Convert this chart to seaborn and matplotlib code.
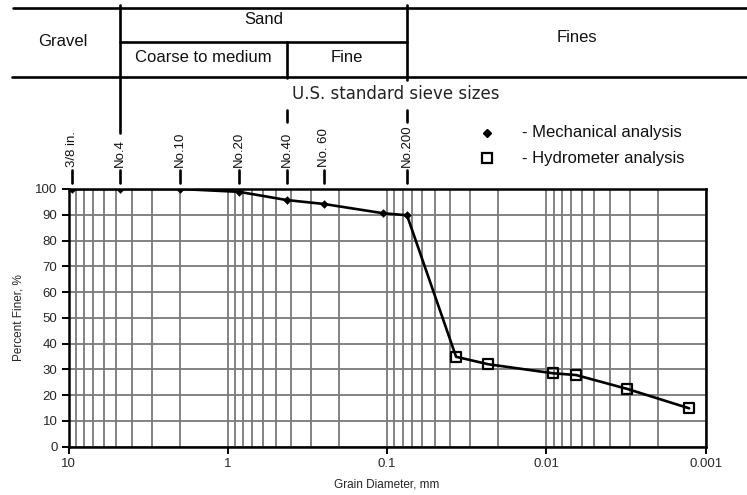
import numpy as np
import pandas as pd
import matplotlib
matplotlib.use("Agg")
import matplotlib.pyplot as plt
import matplotlib.transforms as mtransforms
from matplotlib.lines import Line2D
from matplotlib.ticker import FixedLocator, FuncFormatter, LogLocator, NullFormatter
import seaborn as sns

# Sieve analysis (mechanical) results
mech_diam = [9.5, 4.75, 2.0, 0.85, 0.425, 0.25, 0.106, 0.075]
mech_pct = [100, 100, 100, 98.9, 95.7, 94.2, 90.6, 89.8]

# Hydrometer analysis results
hydro_diam = [0.0369, 0.0232, 0.0091, 0.0065, 0.0031, 0.00127]
hydro_pct = [34.9, 32.0, 28.5, 27.8, 22.4, 14.9]

# U.S. standard sieves shown above the chart
sieve_names = ["3/8 in.", "No.4", "No.10", "No.20", "No.40", "No. 60", "No.200"]
sieve_sizes = [9.5, 4.75, 2.0, 0.85, 0.425, 0.25, 0.075]

# Soil classification boundaries (mm)
gravel_sand = 4.75
coarse_fine = 0.425
sand_fines = 0.075

x_ticks = [10, 1, 0.1, 0.01, 0.001]
y_ticks = list(range(0, 101, 10))

df = pd.DataFrame({
    "diameter": mech_diam + hydro_diam,
    "percent": mech_pct + hydro_pct,
    "test": ["Mechanical"] * len(mech_diam) + ["Hydrometer"] * len(hydro_diam),
})

sns.set_theme(style="white")
plt.rcParams["font.family"] = ["Liberation Sans", "DejaVu Sans"]

W, H = 747, 495
fig = plt.figure(figsize=(W / 100, H / 100), dpi=100)
ax = fig.add_axes([68.5 / W, 1 - 446.7 / H, (705.7 - 68.5) / W, (446.7 - 189) / H])

sns.lineplot(data=df, x="diameter", y="percent", sort=False, estimator=None,
             color="black", lw=1.9, ax=ax, zorder=3)
sns.scatterplot(data=df[df.test == "Mechanical"], x="diameter", y="percent",
                marker="D", s=16, color="black", edgecolor="black", ax=ax, zorder=4,
                legend=False)
sns.scatterplot(data=df[df.test == "Hydrometer"], x="diameter", y="percent",
                marker="s", s=52, facecolor="none", edgecolor="black", linewidth=1.6,
                ax=ax, zorder=4, legend=False)

ax.set_xscale("log")
ax.set_xlim(10, 0.001)
ax.set_ylim(0, 100)
ax.xaxis.set_major_locator(FixedLocator(x_ticks))
ax.xaxis.set_major_formatter(FuncFormatter(lambda v, p: f"{v:g}"))
ax.xaxis.set_minor_locator(LogLocator(base=10, subs=np.arange(2, 10), numticks=20))
ax.xaxis.set_minor_formatter(NullFormatter())
ax.yaxis.set_major_locator(FixedLocator(y_ticks))

ax.grid(which="both", axis="x", color="#7a7a7a", lw=1.3)
ax.grid(which="major", axis="y", color="#7a7a7a", lw=1.3)
ax.set_axisbelow(True)
for sp in ax.spines.values():
    sp.set_color("black")
    sp.set_linewidth(1.8)
    sp.set_zorder(5)

ax.tick_params(axis="both", which="major", direction="out", length=5, width=1.4,
               color="black", labelsize=9.5, pad=3, bottom=True, left=True)
ax.tick_params(axis="x", which="minor", length=0)
ax.set_xlabel("Grain Diameter, mm", fontsize=8.5, labelpad=6)
ax.set_ylabel("Percent Finer, %", fontsize=8.5, labelpad=8)

# Header table with soil classes
def fy(px):
    return 1 - px / H

def fx(px):
    return px / W

bt = mtransforms.blended_transform_factory(ax.transData, fig.transFigure)
lk = dict(color="black", lw=1.9)

fig.add_artist(Line2D([fx(13), 1], [fy(8), fy(8)], transform=fig.transFigure, **lk))
fig.add_artist(Line2D([fx(12), 1], [fy(77), fy(77)], transform=fig.transFigure, **lk))
fig.add_artist(Line2D([gravel_sand, sand_fines], [fy(42), fy(42)], transform=bt, **lk))
fig.add_artist(Line2D([gravel_sand, gravel_sand], [fy(5), fy(133)], transform=bt, **lk))
fig.add_artist(Line2D([coarse_fine, coarse_fine], [fy(42), fy(78)], transform=bt, **lk))
fig.add_artist(Line2D([sand_fines, sand_fines], [fy(5), fy(80)], transform=bt, **lk))
# short markers above No.40 and No.200
for d in (coarse_fine, sand_fines):
    fig.add_artist(Line2D([d, d], [fy(110), fy(122)], transform=bt, **lk))

hk = dict(fontsize=12, ha="center", va="center", color="#111111")
fig.text(fx(63), fy(42), "Gravel", **hk)
fig.text(np.sqrt(gravel_sand * sand_fines), fy(20), "Sand", transform=bt, **hk)
fig.text(np.sqrt(gravel_sand * coarse_fine), fy(57), "Coarse to medium", transform=bt, **hk)
fig.text(np.sqrt(coarse_fine * sand_fines), fy(57), "Fine", transform=bt, **hk)
fig.text(fx(577), fy(38), "Fines", **hk)

fig.text(fx(396), fy(94), "U.S. standard sieve sizes", fontsize=12, ha="center",
         va="center", color="#222222", family=["DejaVu Sans"])

# Sieve labels and their marks
for name, size in zip(sieve_names, sieve_sizes):
    fig.text(size, fy(167), name, transform=bt, rotation=90, fontsize=9.5,
             ha="center", va="bottom", color="#111111")
    fig.add_artist(Line2D([size, size], [fy(170), fy(183)], transform=bt, **lk))

# Legend
fig.add_artist(Line2D([fx(487)], [fy(133)], marker="D", ms=4.5, color="black",
                      transform=fig.transFigure))
fig.add_artist(Line2D([fx(487)], [fy(158)], marker="s", ms=6.5, mfc="none",
                      mec="black", mew=1.6, color="black", transform=fig.transFigure))
fig.text(fx(522), fy(133), "- Mechanical analysis", fontsize=12, va="center",
         color="#111111")
fig.text(fx(522), fy(158), "- Hydrometer analysis", fontsize=12, va="center",
         color="#111111")

fig.savefig("out.png", dpi=100, facecolor="white")
